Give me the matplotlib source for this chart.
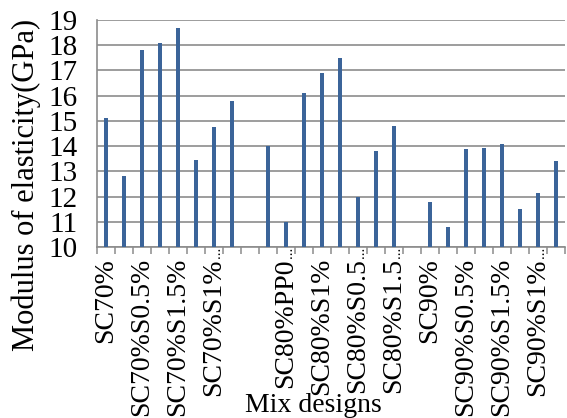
import numpy as np
import matplotlib
matplotlib.use("Agg")
import matplotlib.pyplot as plt

# categories (only every other label is visible in the source chart; blanks are hidden ones)
labels = ["SC70%", "", "SC70%S0.5%", "", "SC70%S1.5%", "", "SC70%S1%", "",
          "", "", "SC80%PP0", "", "SC80%S1%", "", "SC80%S0.5", "", "SC80%S1.5", "",
          "SC90%", "", "SC90%S0.5%", "", "SC90%S1.5%", "", "SC90%S1%", ""]
truncated = [6, 10, 14, 16, 24]  # labels cut off with an ellipsis

# modulus of elasticity (GPa); None = empty spacer category
values = [15.1, 12.8, 17.8, 18.1, 18.7, 13.45, 14.75, 15.8,
          None,
          14.0, 11.0, 16.1, 16.9, 17.5, 12.0, 13.8, 14.8,
          None,
          11.8, 10.8, 13.87, 13.93, 14.1, 11.5, 12.13, 13.4]

plt.rcParams['font.family'] = ['Liberation Serif', 'DejaVu Serif']

fig = plt.figure(figsize=(5.67, 4.18), dpi=100)
ax = fig.add_axes([97 / 567, 1 - 247 / 418, 468 / 567, 227 / 418])

x = np.arange(len(values))
heights = [v if v is not None else np.nan for v in values]
ax.bar(x, np.array(heights) - 10, bottom=10, width=0.2, color='#3b6499', zorder=3)

ax.set_xlim(-0.5, len(values) - 0.5)
ax.set_ylim(10, 19)
ax.set_yticks(range(10, 20))
ax.tick_params(axis='y', length=0, labelsize=21, pad=14)

ax.set_xticks(x)
ax.set_xticklabels(labels, rotation=90, fontsize=20, va='top')
ax.tick_params(axis='x', which='major', length=0, pad=8)
ax.set_xticks(np.arange(-0.5, len(values), 1), minor=True)
ax.tick_params(axis='x', which='minor', length=5, width=1.1, color='#8c8c8c', direction='out')

for i in truncated:
    ax.text(i + 0.15, -0.025, "...", rotation=90, transform=ax.get_xaxis_transform(),
            ha='center', va='center', fontsize=11)

ax.grid(True, axis='y', color='#8c8c8c', linewidth=1.2, zorder=0)
for s in ['top', 'right']:
    ax.spines[s].set_visible(False)
for s in ['left', 'bottom']:
    ax.spines[s].set_color('#8c8c8c')
    ax.spines[s].set_linewidth(1.2)

fig.text(26 / 567, 1 - 185 / 418, "Modulus of elasticity(GPa)", rotation=90,
         ha='center', va='center', fontsize=22)
fig.text(313 / 567, 1 - 405 / 418, "Mix designs", ha='center', va='center', fontsize=20)

fig.savefig("out.png", dpi=100)
